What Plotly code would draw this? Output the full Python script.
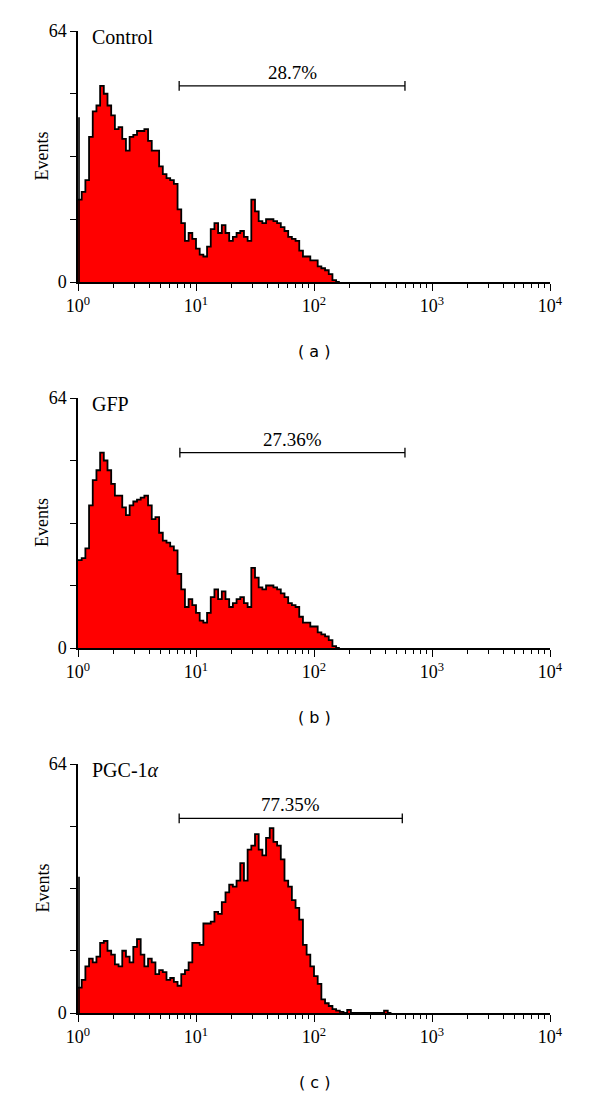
import math
import plotly.graph_objects as go

# histogram channels: 32 channels per decade, starting at 10^0
ch_per_decade = 32

control = [21, 23, 26, 37, 43.5, 45, 50, 48, 45, 42.5, 39, 39.5, 36.5, 33.5, 37, 37.5,
           38.5, 38.5, 39, 36, 33.5, 33.5, 29.5, 27.5, 26.5, 26, 25, 18.5, 15, 10.5, 12.5, 11,
           8.5, 7, 6.5, 9, 13.5, 15, 12.5, 14.5, 12.5, 10.5, 11.5, 12.5, 13, 11.5, 10.5, 21,
           18, 15.5, 15, 16, 16, 15.5, 15, 14, 13, 11.5, 11, 10.5, 8, 6.5, 6.5, 5.5, 5.5, 4,
           3.5, 3, 2, 0.5, 0]
gfp = [22.5, 23, 25.5, 36.5, 43, 45.5, 50, 48, 45.5, 42, 39, 39, 36, 34, 36.5, 37.5,
       38, 38.5, 39, 36.5, 33, 33.5, 29.5, 27.5, 27, 26, 25, 19, 15, 10.5, 12.5, 11,
       9, 7, 6.5, 9, 13, 15, 12.5, 14.5, 12.5, 10.5, 11.5, 12.5, 13, 11.5, 10.5, 20.5,
       18, 15.5, 15, 16, 16, 15.5, 15, 14, 13, 11.5, 11, 10.5, 8, 6.5, 6.5, 5.5, 5.5, 4,
       3.5, 3, 2, 0.5, 0]
pgc = [6.5, 8.5, 12, 14, 13, 14.5, 18, 18.5, 16, 15, 12.5, 12, 16, 14.5, 13, 17,
       19, 15, 12, 14, 13, 10, 11, 10.5, 8.5, 9, 8, 7, 10, 11, 13, 18,
       18, 17.5, 23, 23, 23.5, 26, 25.5, 28.5, 31, 33, 32.5, 34, 38.5, 34, 42, 43,
       46, 42, 40.5, 45, 47.5, 44, 43, 39.5, 34, 32.5, 29, 27, 24, 17.5, 15, 12,
       9.5, 7.5, 3.5, 2.5, 1.8, 1, 0.6, 0.3, 0, 0.8, 0, 0, 0, 0, 0, 0,
       0, 0, 0, 0.6, 0]

# first-channel pile-up spikes (0 = none)
spikes = [42, 0, 35]
spike_pos = 1.02

names = ["Control", "GFP", "PGC-1<i>α</i>"]
series = [control, gfp, pgc]
gate_pct = ["28.7%", "27.36%", "77.35%"]
gate_lo = [7.2, 7.3, 7.2]
gate_hi = [590, 590, 560]
gate_y = [50, 50, 50]
panel_tags = ["( a )", "( b )", "( c )"]

decade_vals = [1, 10, 100, 1000, 10000]
decade_text = ["10<sup>0</sup>", "10<sup>1</sup>", "10<sup>2</sup>", "10<sup>3</sup>", "10<sup>4</sup>"]
minor_vals = [m * d for d in [1, 10, 100, 1000] for m in range(2, 10)]
y_vals = [0, 16, 32, 48, 64]
y_text = ["0", " ", " ", " ", "64"]

W, H = 600, 1097
x_dom = [78 / W, 550 / W]
# pixel rows of (top, bottom) of each plot area
rows = [(31, 282), (398, 648), (764, 1013)]

serif = "Liberation Serif"
fig = go.Figure()

for i, vals in enumerate(series):
    n = i + 1
    xa = "x" if n == 1 else "x%d" % n
    ya = "y" if n == 1 else "y%d" % n
    edges = [10 ** (k / ch_per_decade) for k in range(len(vals) + 1)]
    fig.add_trace(go.Scatter(x=edges, y=vals + [vals[-1]], mode="lines",
                             line=dict(shape="hv", color="black", width=1.8),
                             fill="tozeroy", fillcolor="#ff0000",
                             xaxis=xa, yaxis=ya, hoverinfo="none"))
    if spikes[i] > 0:
        fig.add_trace(go.Scatter(x=[spike_pos, spike_pos], y=[0, spikes[i]], mode="lines",
                                 line=dict(color="black", width=1.6),
                                 xaxis=xa, yaxis=ya, hoverinfo="none"))
    # gate bar
    fig.add_trace(go.Scatter(x=[gate_lo[i], gate_hi[i]], y=[gate_y[i], gate_y[i]],
                             mode="lines+markers",
                             line=dict(color="black", width=1.3),
                             marker=dict(symbol="line-ns", size=7,
                                         line=dict(color="black", width=1.3)),
                             xaxis=xa, yaxis=ya, hoverinfo="none"))
    # annotations on a log axis take log10 positions
    center = (math.log10(gate_lo[i]) + math.log10(gate_hi[i])) / 2
    fig.add_annotation(x=center, y=gate_y[i], xref=xa, yref=ya, text=gate_pct[i],
                       showarrow=False, yanchor="bottom", yshift=1,
                       font=dict(family=serif, size=19, color="black"))
    fig.add_annotation(x=0.025, y=0.975, xref=xa + " domain", yref=ya + " domain",
                       text=names[i], showarrow=False, xanchor="left", yanchor="middle",
                       font=dict(family=serif, size=20, color="black"))
    fig.add_annotation(x=30 / W, y=0.5, xref="paper", yref=ya + " domain",
                       text="Events", textangle=-90, showarrow=False,
                       font=dict(family=serif, size=18, color="black"))
    fig.add_annotation(x=0.5, y=-0.278, xref=xa + " domain", yref=ya + " domain",
                       text=panel_tags[i], showarrow=False, yanchor="middle",
                       font=dict(family="DejaVu Sans", size=16, color="black"))

    top, bot = rows[i]
    fig.layout["xaxis" if n == 1 else "xaxis%d" % n] = dict(
        type="log", range=[0, 4], domain=x_dom, anchor=ya, automargin=False,
        showline=True, linecolor="black", linewidth=1.5, showgrid=False, zeroline=False,
        ticks="outside", ticklen=7, tickwidth=1.3, tickcolor="black",
        tickmode="array", tickvals=decade_vals, ticktext=decade_text,
        minor=dict(ticks="outside", ticklen=4, tickwidth=1.1, tickcolor="black",
                   tickmode="array", tickvals=minor_vals, showgrid=False),
        tickfont=dict(family=serif, size=18, color="black"))
    fig.layout["yaxis" if n == 1 else "yaxis%d" % n] = dict(
        range=[0, 64], domain=[1 - bot / H, 1 - top / H], anchor=xa, automargin=False,
        showline=True, linecolor="black", linewidth=1.5, showgrid=False, zeroline=False,
        ticks="outside", ticklen=6, tickwidth=1.3, tickcolor="black",
        tickmode="array", tickvals=y_vals, ticktext=y_text,
        tickfont=dict(family=serif, size=18, color="black"))

fig.update_layout(width=W, height=H, margin=dict(l=0, r=0, t=0, b=0),
                  showlegend=False, plot_bgcolor="white", paper_bgcolor="white")

# drop the browser's default page margin so the figure sits at the window corner
fig.write_html("out.html", config={"displayModeBar": False},
               post_script="document.body.style.margin='0';")
